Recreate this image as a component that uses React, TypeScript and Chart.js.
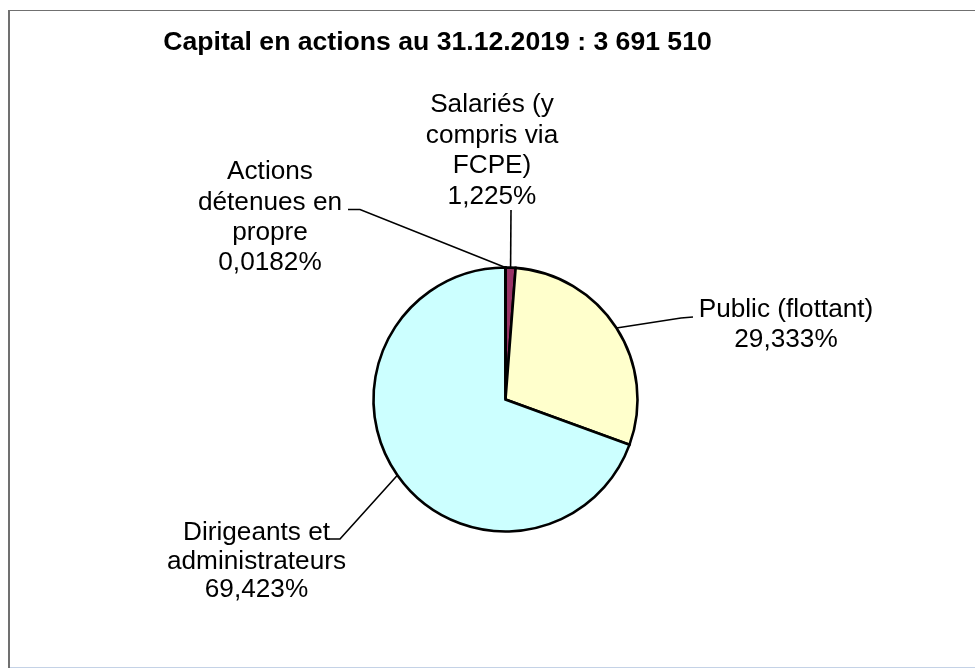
import React, { useEffect, useRef } from "react";
import { Chart, registerables } from "chart.js";

Chart.register(...registerables);

const titleText = "Capital en actions au 31.12.2019 : 3 691 510";
const categories = [
  "Salariés (y compris via FCPE)",
  "Public (flottant)",
  "Dirigeants et administrateurs",
  "Actions détenues en propre",
];
const shares = [1.225, 29.333, 69.423, 0.0182];
const labelLines = [
  ["Salariés (y", "compris via", "FCPE)"],
  ["Public (flottant)"],
  ["Dirigeants et", "administrateurs"],
  ["Actions", "détenues en", "propre"],
];
const sliceColors = ["#993366", "#FFFFCC", "#CCFFFF", "#9999FF"];

// label layout (positions only)
const labelLayout = [
  { cx: 492, y0: 111.7, lh: 30.8, knees: [[511, 210]] },
  { cx: 786, y0: 316.7, lh: 30.3, knees: [[693, 317], [681, 318]] },
  { cx: 256.5, y0: 540, lh: 28.5, knees: [[329, 539], [340, 539]] },
  { cx: 270, y0: 179.3, lh: 30.3, knees: [[348, 209.5], [360, 209.5]] },
];

const FONT = '"Liberation Sans", Arial, Helvetica, sans-serif';

const fmt = (v: number) => String(v).replace(".", ",") + "%";

const decorPlugin = {
  id: "decor",
  afterDraw(chart: any) {
    const ctx = chart.ctx as CanvasRenderingContext2D;
    ctx.save();
    // frame
    ctx.fillStyle = "#707070";
    ctx.fillRect(8, 10, 967, 1);
    ctx.fillRect(8, 10, 2, 658);
    ctx.fillStyle = "#c4d2e6";
    ctx.fillRect(10, 667, 965, 1);

    // title
    ctx.fillStyle = "#000";
    ctx.font = "bold 26.6px " + FONT;
    ctx.textAlign = "center";
    ctx.textBaseline = "alphabetic";
    ctx.fillText(titleText, 437.5, 50);

    const meta = chart.getDatasetMeta(0);
    meta.data.forEach((arc: any, i: number) => {
      const lay = labelLayout[i];
      const mid = (arc.startAngle + arc.endAngle) / 2;
      const ax = arc.x + Math.cos(mid) * arc.outerRadius;
      const ay = arc.y + Math.sin(mid) * arc.outerRadius;
      // leader line
      ctx.strokeStyle = "#000";
      ctx.lineWidth = 1.6;
      ctx.beginPath();
      lay.knees.forEach((p: number[], k: number) => {
        if (k === 0) ctx.moveTo(p[0], p[1]);
        else ctx.lineTo(p[0], p[1]);
      });
      ctx.lineTo(ax, ay);
      ctx.stroke();
      // text
      ctx.font = "26.2px " + FONT;
      ctx.fillStyle = "#000";
      const lines = [...labelLines[i], fmt(shares[i])];
      lines.forEach((t, k) => {
        ctx.fillText(t, lay.cx, lay.y0 + k * lay.lh);
      });
    });
    ctx.restore();
  },
};

export default function App() {
  const ref = useRef<HTMLCanvasElement | null>(null);
  useEffect(() => {
    if (!ref.current) return;
    const chart = new Chart(ref.current, {
      type: "pie",
      data: {
        labels: categories,
        datasets: [
          {
            data: shares,
            backgroundColor: sliceColors,
            borderColor: "#000",
            borderWidth: 2.6,
            borderJoinStyle: "miter",
            radius: 132,
          } as any,
        ],
      },
      options: {
        animation: false,
        responsive: false,
        maintainAspectRatio: false,
        events: [],
        layout: {
          padding: { left: 370.5, right: 334.5, top: 264.5, bottom: 133.5 },
        },
        plugins: {
          legend: { display: false },
          title: { display: false },
          tooltip: { enabled: false },
        },
      } as any,
      plugins: [decorPlugin],
    });
    return () => chart.destroy();
  }, []);
  return (
    <div style={{ position: "fixed", left: 0, top: 0, width: 975, height: 668, background: "#fff" }}>
      <canvas ref={ref} width={975} height={668} style={{ display: "block", width: 975, height: 668 }} />
    </div>
  );
}
